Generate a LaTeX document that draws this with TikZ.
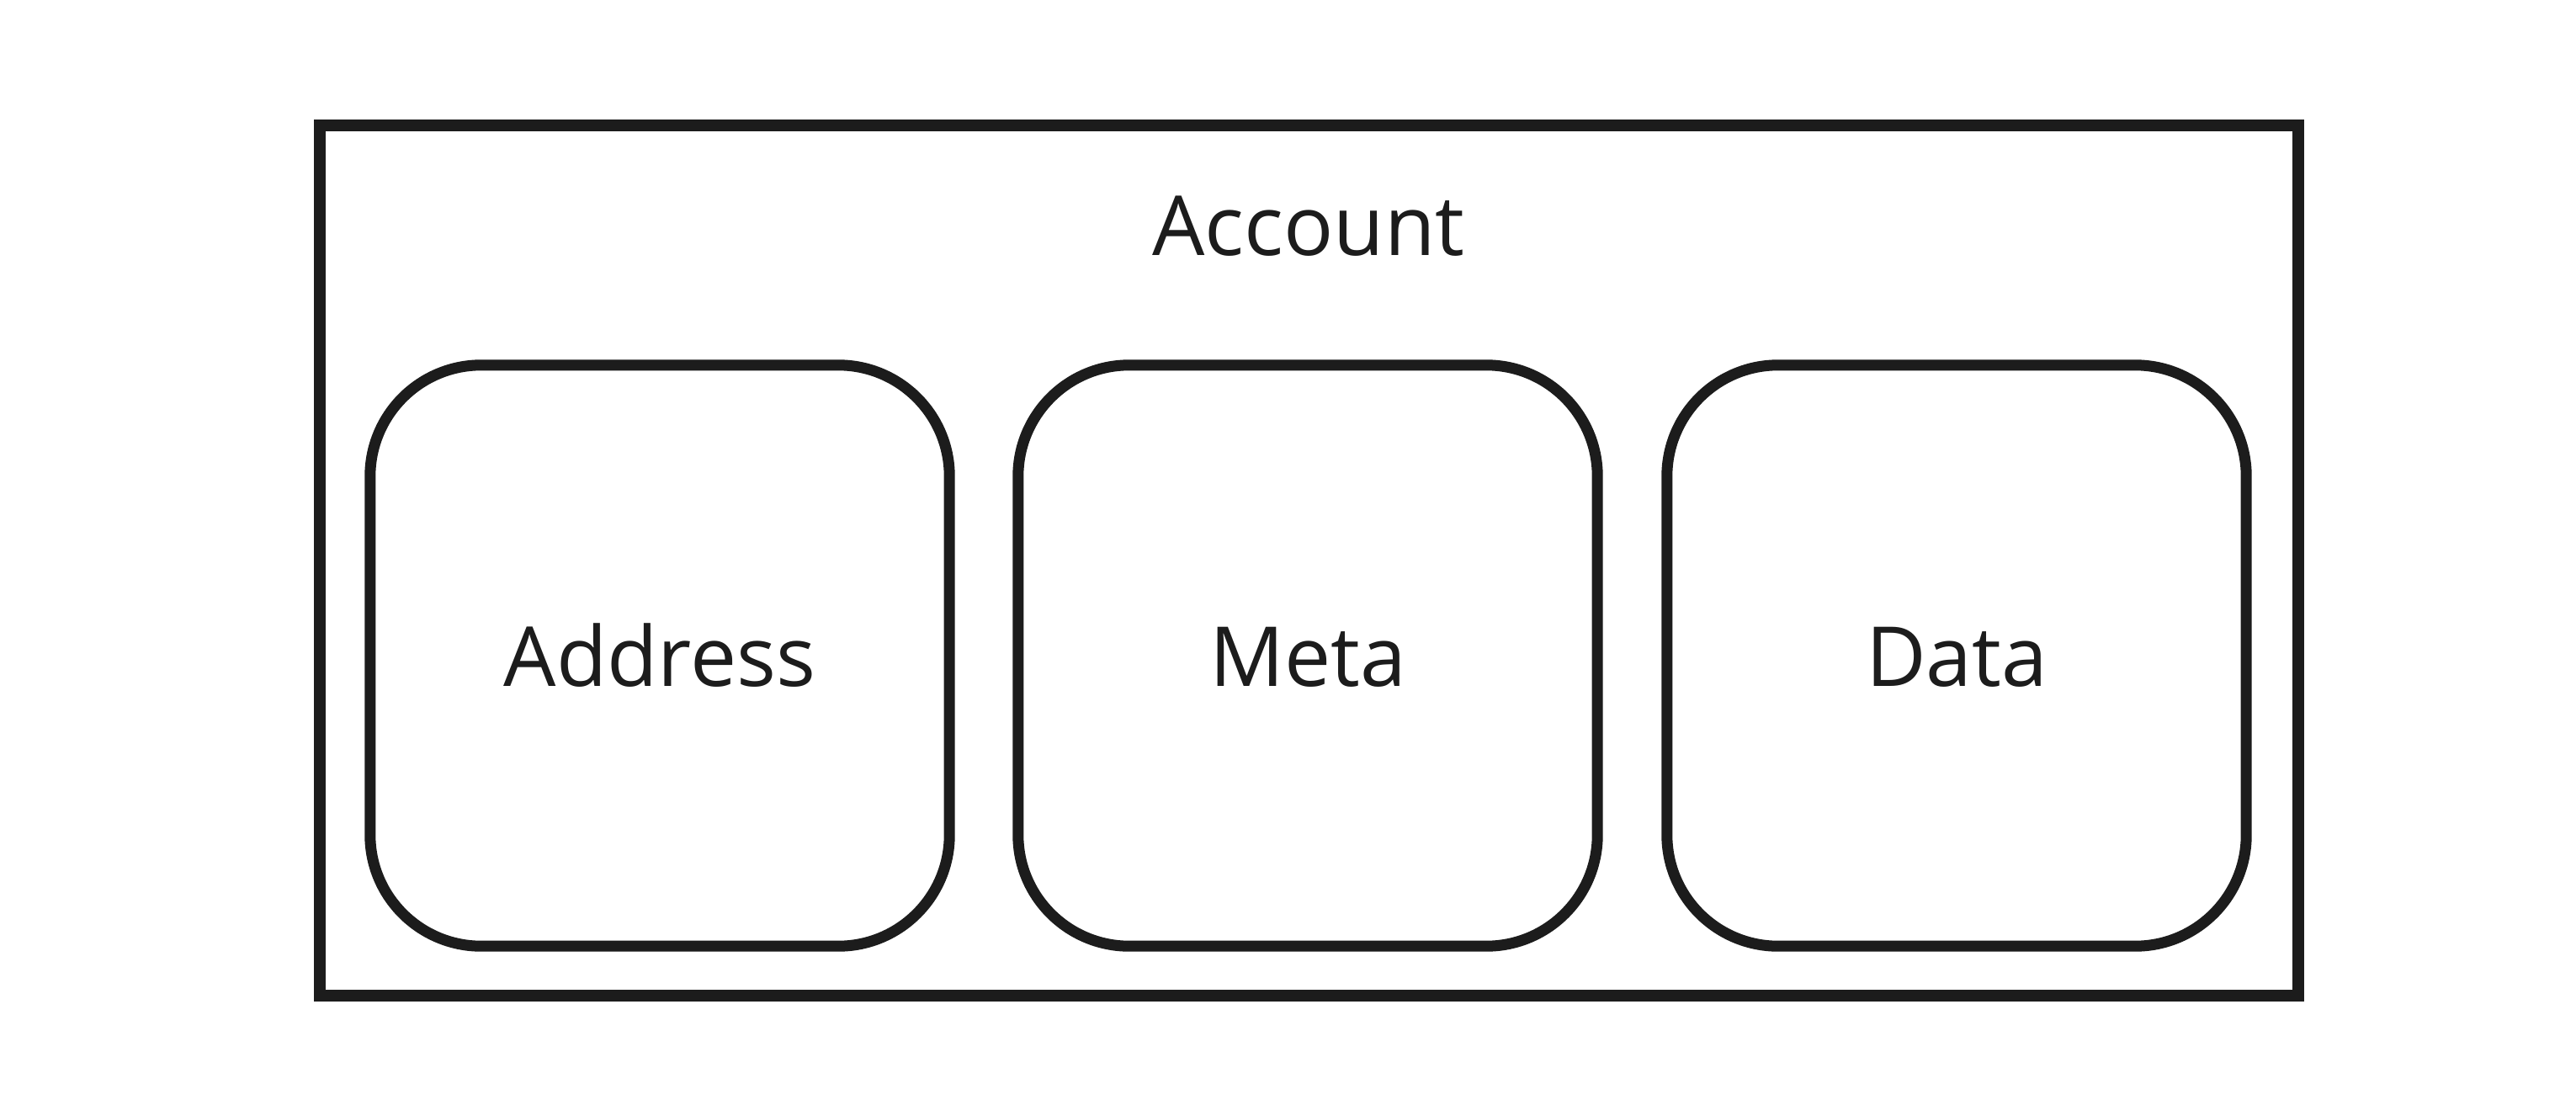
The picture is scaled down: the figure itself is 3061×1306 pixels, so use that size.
\documentclass[tikz,border=0pt]{standalone}
\usepackage{fontspec}
\setmainfont{Open Sans}
\definecolor{ink}{HTML}{1C1C1C}
\tikzset{
  outerbox/.style={draw=ink, line width=0.14cm},
  partbox/.style={draw=ink, line width=0.13cm, rounded corners=1.32cm, minimum width=6.88cm, minimum height=6.9cm, inner sep=0pt, text height=0.72cm, text depth=0pt, font=\fontsize{28pt}{34pt}\selectfont, text=ink},
  title/.style={font=\fontsize{28pt}{34pt}\selectfont, text=ink, anchor=base, inner sep=0pt}
}
\begin{document}
\begin{tikzpicture}[x=0.01cm,y=-0.01cm]
\useasboundingbox (0,0) rectangle (3061,1306);
\draw[outerbox] (380,149) rectangle (2731,1183);
\node[title] (account) at (1555,303) {Account};
\node[partbox] (address) at (784,779) {Address};
\node[partbox] (meta) at (1554,779) {Meta};
\node[partbox] (data) at (2325,779) {Data};
\end{tikzpicture}
\end{document}
